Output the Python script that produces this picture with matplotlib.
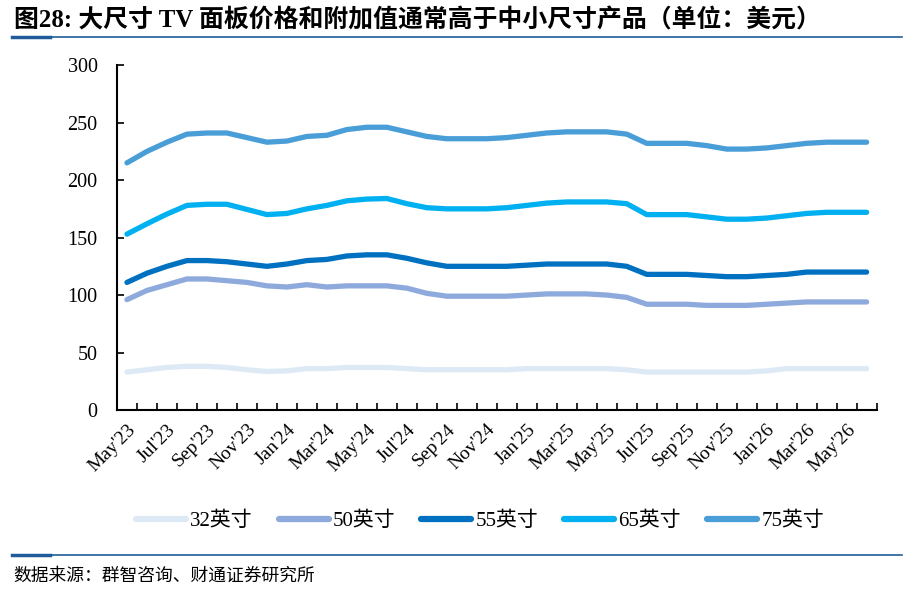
import matplotlib.pyplot as plt
from matplotlib.lines import Line2D
from matplotlib.ticker import FixedLocator

plt.rcParams['font.family'] = ['Liberation Serif', 'Noto Sans CJK SC']

months = ["May'23", "Jun'23", "Jul'23", "Aug'23", "Sep'23", "Oct'23", "Nov'23", "Dec'23",
          "Jan'24", "Feb'24", "Mar'24", "Apr'24", "May'24", "Jun'24", "Jul'24", "Aug'24",
          "Sep'24", "Oct'24", "Nov'24", "Dec'24", "Jan'25", "Feb'25", "Mar'25", "Apr'25",
          "May'25", "Jun'25", "Jul'25", "Aug'25", "Sep'25", "Oct'25", "Nov'25", "Dec'25",
          "Jan'26", "Feb'26", "Mar'26", "Apr'26", "May'26", "Jun'26"]

p32 = [33, 35, 37, 38, 38, 37, 35, 33.5, 34, 36, 36, 37, 37, 37, 36, 35, 35, 35,
       35, 35, 36, 36, 36, 36, 36, 35, 33, 33, 33, 33, 33, 33, 34, 36, 36, 36, 36, 36]
p50 = [96, 104, 109, 114, 114, 112.5, 111, 108, 107, 109, 107, 108, 108, 108, 106, 101.5, 99, 99,
       99, 99, 100, 101, 101, 101, 100, 98, 92, 92, 92, 91, 91, 91, 92, 93, 94, 94, 94, 94]
p55 = [111, 119, 125, 130, 130, 129, 127, 125, 127, 130, 131, 134, 135, 135, 132, 128, 125, 125,
       125, 125, 126, 127, 127, 127, 127, 125, 118, 118, 118, 117, 116, 116, 117, 118, 120, 120, 120, 120]
p65 = [153, 162, 170.5, 178, 179, 179, 174.5, 170, 171, 175, 178, 182, 183.5, 184, 179.5, 176, 175, 175,
       175, 176, 178, 180, 181, 181, 181, 179.5, 170, 170, 170, 168, 166, 166, 167, 169, 171, 172, 172, 172]
p75 = [215, 225, 233, 240, 241, 241, 237, 233, 234, 238, 239, 244, 246, 246, 242, 238, 236, 236,
       236, 237, 239, 241, 242, 242, 242, 240, 232, 232, 232, 230, 227, 227, 228, 230, 232, 233, 233, 233]

labels = ['32英寸', '50英寸', '55英寸', '65英寸', '75英寸']
colors = ['#ddeaf6', '#8eaadc', '#0070c0', '#00b0f0', '#4a9ed8']
series = [p32, p50, p55, p65, p75]

fig = plt.figure(figsize=(9.16, 5.98), dpi=100)
ax = fig.add_axes([0.1277, 0.3144, 0.8293, 0.5766])

x = list(range(len(months)))
for vals, c in zip(series, colors):
    ax.plot(x, vals, color=c, lw=3.8, solid_capstyle='round', solid_joinstyle='round')

ax.set_xlim(-0.5, len(months) - 0.5)
ax.set_ylim(0, 300)
ax.set_yticks(range(0, 301, 50))
ax.tick_params(axis='y', direction='in', length=5, width=1.2, labelsize=14.5, pad=14)

ax.xaxis.set_major_locator(FixedLocator([i + 0.5 for i in range(len(months))]))
ax.xaxis.set_major_formatter(plt.NullFormatter())
ax.xaxis.set_minor_locator(FixedLocator(x[::2]))
ax.set_xticklabels(months[::2], minor=True, rotation=45, ha='right',
                   rotation_mode='anchor', fontsize=14)
ax.tick_params(axis='x', which='major', direction='in', length=5, width=1.2)
ax.tick_params(axis='x', which='minor', length=0, pad=8)

for s in ['top', 'right']:
    ax.spines[s].set_visible(False)
for s in ['left', 'bottom']:
    ax.spines[s].set_linewidth(1.5)

handles = [Line2D([], [], color=c, lw=4.5, solid_capstyle='round') for c in colors]
fig.legend(handles, labels, loc='center', bbox_to_anchor=(0.524, 0.128), ncol=5,
           frameon=False, fontsize=15, handlelength=2.4, handletextpad=0.2,
           columnspacing=1.25)

fig.text(0.015, 0.965, '图28: 大尺寸 TV 面板价格和附加值通常高于中小尺寸产品（单位：美元）',
         fontsize=17.9, fontweight='bold', va='center', ha='left')
fig.add_artist(Line2D([0.013, 0.985], [0.938, 0.938], color='#1f5c99', lw=1.2))
fig.add_artist(Line2D([0.013, 0.055], [0.938, 0.938], color='#1f5c99', lw=2.5))
fig.add_artist(Line2D([0.013, 0.985], [0.072, 0.072], color='#1f5c99', lw=1.2))
fig.add_artist(Line2D([0.013, 0.055], [0.072, 0.072], color='#1f5c99', lw=2.5))
fig.text(0.014, 0.037, '数据来源：群智咨询、财通证券研究所', fontsize=12.8, va='center', ha='left')

fig.savefig('out.png', dpi=100)
